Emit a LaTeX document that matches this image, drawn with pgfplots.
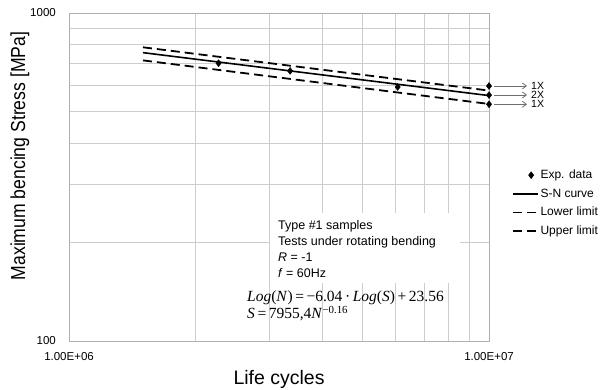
\documentclass[border=0pt]{standalone}
\usepackage{fontspec}
\setmainfont{Liberation Sans}
\newfontfamily\seriffont{Liberation Serif}
\usepackage{graphicx}
\usepackage{pgfplots}
\pgfplotsset{compat=1.18}
\usetikzlibrary{arrows.meta}
\definecolor{gridc}{RGB}{205,205,205}
\definecolor{framec}{RGB}{175,175,175}
\definecolor{arrc}{RGB}{110,110,110}

\begin{document}
\begin{tikzpicture}
\useasboundingbox (-69pt,-49pt) rectangle (533pt,341pt);
\begin{axis}[
  at={(0pt,0pt)}, anchor=south west,
  scale only axis, width=420pt, height=328pt,
  xmode=log, ymode=log,
  xmin=1e6, xmax=1e7, ymin=100, ymax=1000,
  xtick={1e6,1e7}, xticklabels={1.00E+06,1.00E+07},
  ytick={100,1000}, yticklabels={100,1000},
  minor xtick={2e6,3e6,4e6,5e6,6e6,7e6,8e6,9e6},
  minor ytick={200,300,400,500,600,700,800,900},
  grid=both,
  major grid style={draw=gridc, line width=0.8pt},
  minor grid style={draw=gridc, line width=0.8pt},
  axis line style={draw=framec, line width=0.8pt},
  major tick length=0pt, minor tick length=0pt,
  tick label style={font=\fontsize{11.5}{13}\selectfont, inner sep=0pt},
  xticklabel style={anchor=north, yshift=-11pt},
  yticklabel style={anchor=east, xshift=-13pt},
  xlabel={Life cycles},
  ylabel={\scalebox{1}[1.15]{Maximum bencing Stress [MPa]}},
  xlabel style={at={(axis description cs:0.5,-0.1341)}, anchor=base, font=\fontsize{19.5}{22}\selectfont, inner sep=0pt},
  ylabel style={at={(axis description cs:-0.1048,0.564)}, anchor=base, font=\fontsize{17.6}{20}\selectfont, inner sep=0pt},
  clip=false,
  reverse legend,
  legend cell align=left,
  legend image code/.code={\draw[mark repeat=2,mark phase=2,#1] plot coordinates {(0pt,0pt)(18pt,0pt)(25pt,0pt)};},
  legend style={at={(axis description cs:1.0548,0.5282)}, anchor=north west, draw=none, fill=none, inner sep=0pt,
    font=\fontsize{12}{14}\selectfont, row sep=4.2pt,
    nodes={inner sep=1.5pt, text height=9pt, text depth=2.5pt}},
]
\addplot[black, line width=1.8pt, dash pattern=on 9pt off 5pt] coordinates {(1.5e6,786) (1e7,580)};
\addlegendentry{Upper limit}
\addplot[black, line width=1.8pt, dash pattern=on 9pt off 5pt] coordinates {(1.5e6,717) (1e7,528)};
\addlegendentry{Lower limit}
\addplot[black, line width=1.6pt] coordinates {(1.5e6,757) (1e7,560)};
\addlegendentry{S-N curve}
\addplot[only marks, mark=diamond*, mark size=3.5pt, black] coordinates {
  (2.27e6,703) (3.36e6,666) (6.06e6,595) (1e7,599) (1e7,562) (1e7,527)};
\addlegendentry{Exp. data}
\end{axis}
% annotation box
\fill[white] (201pt,58pt) rectangle (391pt,128pt);
\begin{scope}[every node/.style={anchor=base west, inner sep=0pt, font=\fontsize{12.5}{15}\selectfont}]
\node at (209pt,111.7pt) {Type \#1 samples};
\node at (209pt,95.3pt) {Tests under rotating bending};
\node at (209pt,79.3pt) {\textit{R} = -1};
\node at (209pt,63.7pt) {\textit{f} = 60Hz};
\end{scope}
\begin{scope}[every node/.style={anchor=base west, inner sep=0pt, font=\seriffont\fontsize{15.5}{17}\selectfont}]
\node at (178pt,39.3pt) {\textit{Log}(\textit{N})\,=\,−6.04\,·\,\textit{Log}(\textit{S})\,+\,23.56};
\node at (178pt,22pt) {\textit{S}\,=\,7955,4\textit{N}\textsuperscript{−0.16}};
\end{scope}
% multiplicity arrows
\begin{scope}[draw=arrc, line width=0.8pt]
\draw[-{Straight Barb[length=4pt,width=6pt]}] (425pt,255pt) -- (458pt,255pt);
\draw[-{Straight Barb[length=4pt,width=6pt]}] (425pt,246pt) -- (458pt,246pt);
\draw[-{Straight Barb[length=4pt,width=6pt]}] (425pt,236.7pt) -- (458pt,236.7pt);
\end{scope}
\begin{scope}[every node/.style={anchor=west, inner sep=0pt, font=\fontsize{10.5}{12}\selectfont}]
\node at (462pt,255pt) {1X};
\node at (462pt,246pt) {2X};
\node at (462pt,236.7pt) {1X};
\end{scope}
\end{tikzpicture}
\end{document}
